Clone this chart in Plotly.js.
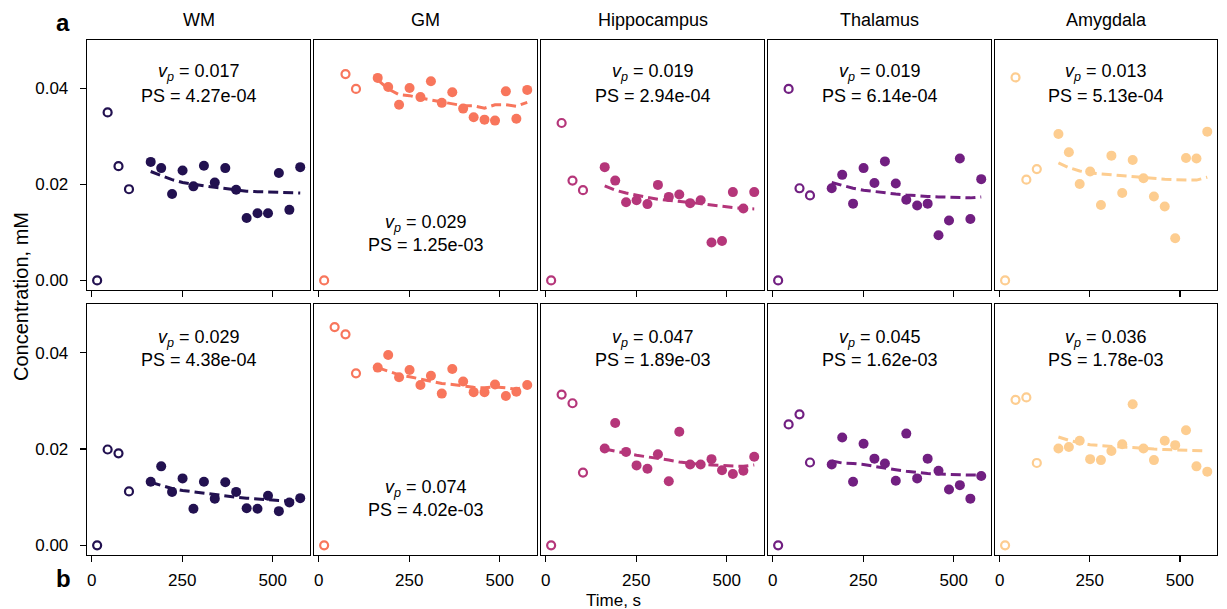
<!DOCTYPE html>
<html>
<head>
<meta charset="utf-8">
<script src="https://cdn.plot.ly/plotly-3.0.1.min.js"></script>
<style>html,body{margin:0;padding:0;background:#fff;}#plot{width:1227px;height:609px;}</style>
</head>
<body>
<div id="plot"></div>
<script>
// ---------- DATA ----------
const regions = ["WM", "GM", "Hippocampus", "Thalamus", "Amygdala"];
const colors = ["#221150", "#f8765c", "#b5367a", "#711f81", "#fdcd90"];
const tOpen = [15, 44, 74, 103];
const tFill = [163, 192, 222, 251, 281, 310, 340, 369, 399, 428, 458, 487, 517, 546, 576];

// Row a
const openA = [
  [0.0, 0.0350, 0.0238, 0.0190],
  [0.0, null, 0.0430, 0.0399],
  [0.0, 0.0328, 0.0208, 0.0188],
  [0.0, 0.0399, 0.0192, 0.0177],
  [0.0, 0.0423, 0.0210, 0.0232]
];
const fillA = [
  [0.0247, 0.0234, 0.0180, 0.0229, 0.0196, 0.0239, 0.0204, 0.0234, 0.0189, 0.0130, 0.0140, 0.0140, 0.0224, 0.0147, 0.0236],
  [0.0422, 0.0403, 0.0366, 0.0401, 0.0382, 0.0415, 0.0370, 0.0392, 0.0358, 0.0340, 0.0335, 0.0333, 0.0394, 0.0337, 0.0397],
  [0.0236, 0.0208, 0.0163, 0.0167, 0.0159, 0.0199, 0.0174, 0.0179, 0.0161, 0.0167, 0.0079, 0.0082, 0.0184, 0.0150, 0.0184],
  [0.0192, 0.0220, 0.0160, 0.0234, 0.0203, 0.0248, 0.0202, 0.0168, 0.0156, 0.0160, 0.0094, 0.0125, 0.0254, 0.0128, 0.0211],
  [0.0305, 0.0267, 0.0201, 0.0227, 0.0157, 0.0260, 0.0182, 0.0251, 0.0213, 0.0175, 0.0154, 0.0088, 0.0255, 0.0254, 0.0310]
];
const fitA = [
  [0.0227, 0.0218, 0.0210, 0.0204, 0.0200, 0.0197, 0.0194, 0.0191, 0.0188, 0.0186, 0.0185, 0.0184, 0.0183, 0.0182, 0.0182],
  [0.0418, 0.0399, 0.0387, 0.0385, 0.0380, 0.0376, 0.0371, 0.0368, 0.0364, 0.0364, 0.0359, 0.0366, 0.0366, 0.0363, 0.0371],
  [0.0197, 0.0188, 0.0182, 0.0177, 0.0173, 0.0169, 0.0167, 0.0164, 0.0162, 0.0160, 0.0157, 0.0154, 0.0152, 0.0150, 0.0149],
  [0.0204, 0.0198, 0.0192, 0.0188, 0.0185, 0.0182, 0.0180, 0.0178, 0.0176, 0.0175, 0.0174, 0.0173, 0.0172, 0.0172, 0.0174],
  [0.0245, 0.0235, 0.0228, 0.0224, 0.0222, 0.0220, 0.0218, 0.0216, 0.0214, 0.0212, 0.0211, 0.0210, 0.0209, 0.0209, 0.0215]
];
const vpA = ["0.017", "0.029", "0.019", "0.019", "0.013"];
const psA = ["4.27e-04", "1.25e-03", "2.94e-04", "6.14e-04", "5.13e-04"];

// Row b
const openB = [
  [0.0, 0.0199, 0.0191, 0.0112],
  [0.0, 0.0453, 0.0438, 0.0357],
  [0.0, 0.0313, 0.0295, 0.0151],
  [0.0, 0.0251, 0.0272, 0.0172],
  [0.0, 0.0302, 0.0307, 0.0171]
];
const fillB = [
  [0.0132, 0.0164, 0.0111, 0.0139, 0.0076, 0.0132, 0.0097, 0.0131, 0.0111, 0.0077, 0.0076, 0.0103, 0.0071, 0.0089, 0.0098],
  [0.0369, 0.0395, 0.0349, 0.0364, 0.0333, 0.0352, 0.0315, 0.0366, 0.0340, 0.0318, 0.0318, 0.0334, 0.0310, 0.0319, 0.0333],
  [0.0201, 0.0254, 0.0194, 0.0166, 0.0159, 0.0189, 0.0133, 0.0236, 0.0168, 0.0168, 0.0179, 0.0156, 0.0148, 0.0155, 0.0184],
  [0.0168, 0.0224, 0.0132, 0.0211, 0.0180, 0.0170, 0.0134, 0.0232, 0.0139, 0.0180, 0.0155, 0.0116, 0.0125, 0.0097, 0.0144],
  [0.0201, 0.0204, 0.0217, 0.0179, 0.0177, 0.0196, 0.0210, 0.0293, 0.0201, 0.0177, 0.0217, 0.0208, 0.0239, 0.0164, 0.0153]
];
const fitB = [
  [0.0131, 0.0124, 0.0118, 0.0114, 0.0111, 0.0108, 0.0105, 0.0103, 0.0100, 0.0098, 0.0096, 0.0095, 0.0093, 0.0092, 0.0092],
  [0.0369, 0.0361, 0.0354, 0.0350, 0.0345, 0.0340, 0.0336, 0.0334, 0.0331, 0.0328, 0.0327, 0.0329, 0.0327, 0.0324, 0.0330],
  [0.0200, 0.0195, 0.0191, 0.0187, 0.0184, 0.0180, 0.0177, 0.0173, 0.0170, 0.0168, 0.0167, 0.0166, 0.0164, 0.0164, 0.0167],
  [0.0175, 0.0171, 0.0170, 0.0168, 0.0164, 0.0160, 0.0157, 0.0154, 0.0151, 0.0149, 0.0148, 0.0147, 0.0146, 0.0146, 0.0146],
  [0.0225, 0.0218, 0.0213, 0.0209, 0.0207, 0.0205, 0.0204, 0.0203, 0.0201, 0.0200, 0.0199, 0.0198, 0.0197, 0.0197, 0.0196]
];
const vpB = ["0.029", "0.074", "0.047", "0.045", "0.036"];
const psB = ["4.38e-04", "4.02e-03", "1.89e-03", "1.62e-03", "1.78e-03"];

const xTicks = [0, 250, 500];
const yTicks = [0, 0.02, 0.04];
const yTickText = ["0.00", "0.02", "0.04"];

// ---------- LAYOUT ----------
const W = 1227, H = 609;
const FONT = "Liberation Sans, Arial, sans-serif";
const colPx = [[87, 310], [314, 537], [541, 764], [768, 991], [995, 1217]];
const rowPx = [[40, 290], [304, 555]];

const traces = [];
const layout = {
  width: W, height: H,
  margin: {l: 0, r: 0, t: 0, b: 0},
  paper_bgcolor: "#fff", plot_bgcolor: "#fff",
  showlegend: false,
  font: {family: FONT, size: 17, color: "#000"},
  annotations: []
};

const rowsData = [
  {open: openA, fill: fillA, fit: fitA, vp: vpA, ps: psA},
  {open: openB, fill: fillB, fit: fitB, vp: vpB, ps: psB}
];

for (let r = 0; r < 2; r++) {
  for (let c = 0; c < 5; c++) {
    const idx = r * 5 + c + 1;
    const xa = "x" + idx, ya = "y" + idx;
    const xk = "xaxis" + idx, yk = "yaxis" + idx;
    const d = rowsData[r];
    layout[xk] = {
      domain: [colPx[c][0] / W, colPx[c][1] / W],
      range: [-13, 603], anchor: ya,
      tickvals: xTicks, ticktext: xTicks.map(String),
      showticklabels: r === 1, ticks: "outside", ticklen: 6, tickwidth: 1.3, tickcolor: "#000",
      ticklabelstandoff: 3,
      showline: true, mirror: true, linecolor: "#000", linewidth: 1.3,
      showgrid: false, zeroline: false, tickfont: {size: 17, family: FONT}
    };
    layout[yk] = {
      domain: [1 - rowPx[r][1] / H, 1 - rowPx[r][0] / H],
      range: [-0.002, 0.0501], anchor: xa,
      tickvals: yTicks, ticktext: yTickText,
      showticklabels: c === 0, ticks: c === 0 ? "outside" : "", ticklen: 6, tickwidth: 1.3, tickcolor: "#000",
      ticklabelstandoff: 8,
      showline: true, mirror: true, linecolor: "#000", linewidth: 1.3,
      showgrid: false, zeroline: false, tickfont: {size: 17, family: FONT}
    };
    const col = colors[c];
    traces.push({
      type: "scatter", mode: "lines", x: tFill, y: d.fit[c], xaxis: xa, yaxis: ya,
      line: {color: col, width: 3, dash: "10px,5px"}, hoverinfo: "skip"
    });
    traces.push({
      type: "scatter", mode: "markers", x: tOpen, y: d.open[c], xaxis: xa, yaxis: ya,
      marker: {symbol: "circle-open", size: 8, color: col, line: {color: col, width: 2.2}}
    });
    traces.push({
      type: "scatter", mode: "markers", x: tFill, y: d.fill[c], xaxis: xa, yaxis: ya,
      marker: {symbol: "circle", size: 10, color: col, line: {width: 0}}
    });
    // annotation text position (GM panels lower)
    let yv, yp;
    if (c === 1) {
      yv = r === 0 ? 223 : 488; yp = r === 0 ? 245 : 510;
    } else {
      yv = r === 0 ? 73 : 338; yp = r === 0 ? 96 : 360;
    }
    const cx = (colPx[c][0] + colPx[c][1]) / 2 / W;
    layout.annotations.push({
      xref: "paper", yref: "paper", x: cx, y: 1 - yv / H, xanchor: "center", yanchor: "middle",
      text: "<i>v<sub>p</sub></i> = " + d.vp[c], showarrow: false, font: {size: 18, family: FONT}
    });
    layout.annotations.push({
      xref: "paper", yref: "paper", x: cx, y: 1 - yp / H, xanchor: "center", yanchor: "middle",
      text: "PS = " + d.ps[c], showarrow: false, font: {size: 18, family: FONT}
    });
    if (r === 0) {
      layout.annotations.push({
        xref: "paper", yref: "paper", x: cx, y: 1 - 20 / H, xanchor: "center", yanchor: "middle",
        text: regions[c], showarrow: false, font: {size: 18, family: FONT}
      });
    }
  }
}

// panel letters and axis titles
layout.annotations.push({xref: "paper", yref: "paper", x: 63 / W, y: 1 - 23 / H, xanchor: "center", yanchor: "middle",
  text: "<b>a</b>", showarrow: false, font: {size: 24, family: FONT}});
layout.annotations.push({xref: "paper", yref: "paper", x: 63 / W, y: 1 - 578 / H, xanchor: "center", yanchor: "middle",
  text: "<b>b</b>", showarrow: false, font: {size: 24, family: FONT}});
layout.annotations.push({xref: "paper", yref: "paper", x: 21 / W, y: 1 - 297 / H, xanchor: "center", yanchor: "middle",
  text: "Concentration, mM", textangle: -90, showarrow: false, font: {size: 20, family: FONT}});
layout.annotations.push({xref: "paper", yref: "paper", x: 613 / W, y: 1 - 600 / H, xanchor: "center", yanchor: "middle",
  text: "Time, s", showarrow: false, font: {size: 17, family: FONT}});

Plotly.newPlot("plot", traces, layout, {displayModeBar: false, staticPlot: true});
</script>
</body>
</html>
